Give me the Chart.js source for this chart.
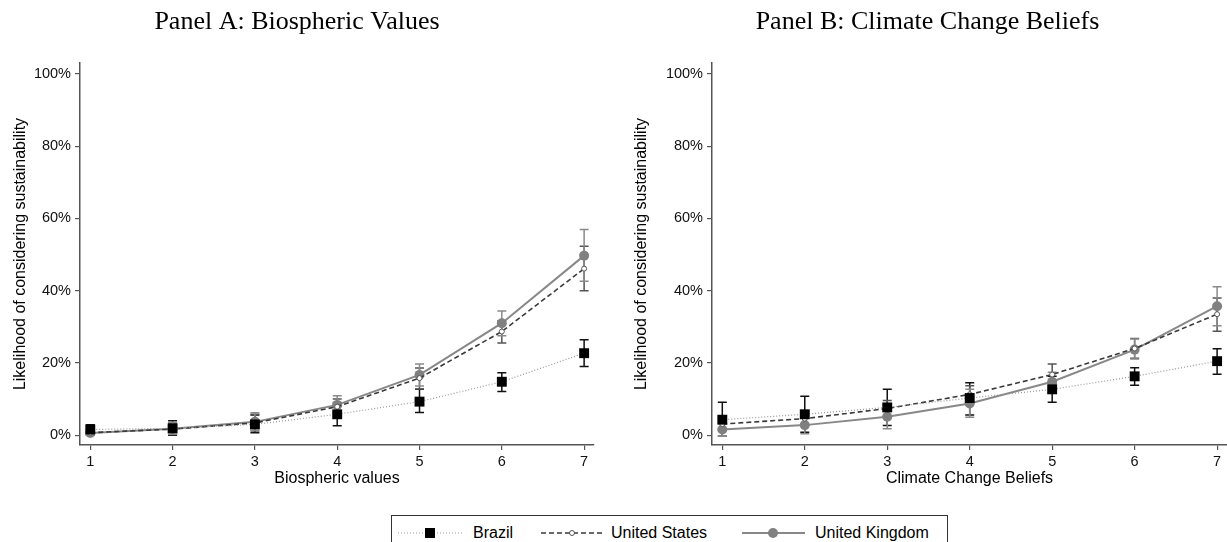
<!DOCTYPE html>
<html>
<head>
<meta charset="utf-8">
<title>Likelihood of considering sustainability</title>
<script src="https://cdn.jsdelivr.net/npm/chart.js@4.4.0/dist/chart.umd.min.js"></script>
<style>
  html, body { margin: 0; padding: 0; background: #fff; width: 1227px; height: 542px; overflow: hidden; }
  #boxA { position: absolute; left: 0; top: 0; }
  #boxB { position: absolute; left: 628px; top: 0; }
  #legenda {
    position: absolute; left: 391px; top: 515px; width: 555px; height: 48px;
    border: 1.5px solid #333; font-family: "Liberation Sans", Arial, sans-serif; font-size: 16px; color: #000;
  }
  #legenda span { position: absolute; top: 7px; line-height: 20px; }
  #legenda svg { position: absolute; left: 0; top: 0; }
</style>
</head>
<body>
<div id="boxA"><canvas id="painelA" width="596" height="492"></canvas></div>
<div id="boxB"><canvas id="painelB" width="599" height="492"></canvas></div>

<div id="legenda">
  <svg width="555" height="40">
    <line x1="6" y1="17" x2="70" y2="17" stroke="#999" stroke-width="1.2" stroke-dasharray="1 2"/>
    <rect x="33" y="12" width="10" height="10" fill="#000"/>
    <line x1="149" y1="17" x2="210" y2="17" stroke="#3a3a3a" stroke-width="1.6" stroke-dasharray="5 3"/>
    <circle cx="180" cy="17" r="2.5" fill="#fff" stroke="#555" stroke-width="1"/>
    <line x1="350" y1="17" x2="413" y2="17" stroke="#888" stroke-width="2"/>
    <circle cx="381" cy="17" r="5" fill="#808080"/>
  </svg>
  <span style="left:81px">Brazil</span>
  <span style="left:219px">United States</span>
  <span style="left:423px">United Kingdom</span>
</div>

<script>
// escala 1-7 nos dois paineis
var niveis = [1, 2, 3, 4, 5, 6, 7];
var ticksY = [0, 20, 40, 60, 80, 100];

// Panel A: Biospheric values (%)
var bioBrazil   = [1.6, 1.9, 3.0, 5.8, 9.3, 14.8, 22.7];
var bioBrazilLo = [0.3, 0.0, 0.7, 2.6, 6.3, 12.1, 19.0];
var bioBrazilHi = [2.9, 4.0, 5.6, 8.9, 12.7, 17.3, 26.4];
var bioUS       = [0.7, 1.7, 3.4, 7.9, 15.8, 28.7, 46.1];
var bioUSLo     = [0.0, 0.2, 1.2, 5.8, 12.8, 25.5, 40.0];
var bioUSHi     = [1.6, 3.3, 5.8, 10.0, 18.6, 31.7, 52.3];
var bioUK       = [0.6, 1.8, 3.7, 8.4, 16.7, 31.0, 49.7];
var bioUKLo     = [0.0, 0.3, 1.4, 6.1, 13.6, 27.5, 42.6];
var bioUKHi     = [2.4, 3.6, 6.2, 10.9, 19.7, 34.4, 56.9];

// Panel B: Climate change beliefs (%)
var cliBrazil   = [4.3, 5.8, 7.7, 10.3, 12.7, 16.3, 20.5];
var cliBrazilLo = [-0.3, 0.8, 2.7, 5.6, 9.1, 13.8, 16.9];
var cliBrazilHi = [9.1, 10.8, 12.7, 14.5, 16.3, 18.7, 23.9];
var cliUS       = [3.1, 4.6, 7.4, 11.3, 16.8, 24.0, 33.5];
var cliUSLo     = [1.5, 2.8, 5.4, 8.9, 14.2, 21.3, 28.8];
var cliUSHi     = [4.8, 6.6, 9.6, 13.7, 19.7, 26.8, 38.0];
var cliUK       = [1.6, 2.8, 5.1, 8.8, 14.8, 23.7, 35.7];
var cliUKLo     = [-0.3, 0.4, 1.8, 5.0, 11.8, 21.1, 30.3];
var cliUKHi     = [3.4, 5.3, 8.5, 12.7, 17.4, 26.6, 41.1];

var fonteSans = "'Liberation Sans', Arial, sans-serif";
var fonteSerif = "'Liberation Serif', 'Times New Roman', serif";

function pontos(valores) {
  return niveis.map(function (n, i) { return { x: n, y: valores[i] }; });
}

// barras de erro desenhadas com as escalas do proprio chart
var barrasErro = {
  id: 'barrasErro',
  beforeDatasetsDraw: function (chart) {
    var ctx = chart.ctx;
    var sx = chart.scales.x;
    var sy = chart.scales.y;
    chart.data.datasets.forEach(function (ds, i) {
      if (!ds.erroLo) return;
      ctx.save();
      ctx.strokeStyle = ds.corErro;
      ctx.lineWidth = 1.5;
      for (var j = 0; j < niveis.length; j++) {
        var x = sx.getPixelForValue(niveis[j]);
        var y1 = sy.getPixelForValue(ds.erroLo[j]);
        var y2 = sy.getPixelForValue(ds.erroHi[j]);
        ctx.beginPath();
        ctx.moveTo(x, y1); ctx.lineTo(x, y2);
        ctx.moveTo(x - 4.5, y1); ctx.lineTo(x + 4.5, y1);
        ctx.moveTo(x - 4.5, y2); ctx.lineTo(x + 4.5, y2);
        ctx.stroke();
      }
      ctx.restore();
    });
  }
};

function criarPainel(id, titulo, tituloX, brazil, us, uk, larguraY, padTituloY) {
  var el = document.getElementById(id);
  return new Chart(el, {
    type: 'line',
    data: {
      datasets: [
        {
          label: 'Brazil', data: pontos(brazil[0]), order: 0,
          borderColor: '#999', borderWidth: 1.2, borderDash: [1, 2],
          pointStyle: 'rect', pointRadius: 7, pointBackgroundColor: '#000', pointBorderWidth: 0,
          erroLo: brazil[1], erroHi: brazil[2], corErro: '#111'
        },
        {
          label: 'United States', data: pontos(us[0]), order: 1,
          borderColor: '#3a3a3a', borderWidth: 1.6, borderDash: [5, 3],
          pointStyle: 'circle', pointRadius: 2.5, pointBackgroundColor: '#fff',
          pointBorderColor: '#555', pointBorderWidth: 1,
          erroLo: us[1], erroHi: us[2], corErro: '#555'
        },
        {
          label: 'United Kingdom', data: pontos(uk[0]), order: 2,
          borderColor: '#888', borderWidth: 2,
          pointStyle: 'circle', pointRadius: 5, pointBackgroundColor: '#808080', pointBorderWidth: 0,
          erroLo: uk[1], erroHi: uk[2], corErro: '#8a8a8a'
        }
      ]
    },
    options: {
      responsive: false,
      animation: false,
      layout: { autoPadding: false, padding: { left: 0, right: id === 'painelA' ? 2 : 0, top: 0, bottom: 0 } },
      scales: {
        x: {
          type: 'linear', min: 0.875, max: 7.12,
          afterBuildTicks: function (axis) { axis.ticks = niveis.map(function (v) { return { value: v }; }); },
          afterFit: function (axis) { axis.height = 47; },
          border: { display: true, color: '#555', width: 1.5 },
          grid: { drawOnChartArea: false, drawTicks: true, tickLength: 5, color: '#555', lineWidth: 1.2 },
          ticks: { color: '#111', padding: 3, maxRotation: 0, font: { family: fonteSans, size: 14.5 } },
          title: { display: true, text: tituloX, color: '#000', padding: { top: 0, bottom: 4 }, font: { family: fonteSans, size: 16 } }
        },
        y: {
          min: -2.7, max: 103,
          afterBuildTicks: function (axis) { axis.ticks = ticksY.map(function (v) { return { value: v }; }); },
          afterFit: function (axis) { axis.width = larguraY; },
          border: { display: true, color: '#555', width: 1.5 },
          grid: { drawOnChartArea: false, drawTicks: true, tickLength: 5, color: '#555', lineWidth: 1.2 },
          ticks: {
            color: '#111', padding: 4, font: { family: fonteSans, size: 14.5 },
            callback: function (v) { return v + '%'; }
          },
          title: {
            display: true, text: 'Likelihood of considering sustainability', color: '#000',
            padding: { top: padTituloY, bottom: 0 }, font: { family: fonteSans, size: 16 }
          }
        }
      },
      plugins: {
        legend: { display: false },
        tooltip: { enabled: false },
        title: {
          display: true, text: titulo, color: '#000',
          padding: { top: 6.4, bottom: 25.4 },
          font: { family: fonteSerif, size: 26, weight: 'normal' }
        }
      }
    },
    plugins: [barrasErro]
  });
}

criarPainel('painelA', 'Panel A: Biospheric Values', 'Biospheric values',
  [bioBrazil, bioBrazilLo, bioBrazilHi], [bioUS, bioUSLo, bioUSHi], [bioUK, bioUKLo, bioUKHi], 80, 11.4);
criarPainel('painelB', 'Panel B: Climate Change Beliefs', 'Climate Change Beliefs',
  [cliBrazil, cliBrazilLo, cliBrazilHi], [cliUS, cliUSLo, cliUSHi], [cliUK, cliUKLo, cliUKHi], 84, 4.4);
</script>
</body>
</html>
